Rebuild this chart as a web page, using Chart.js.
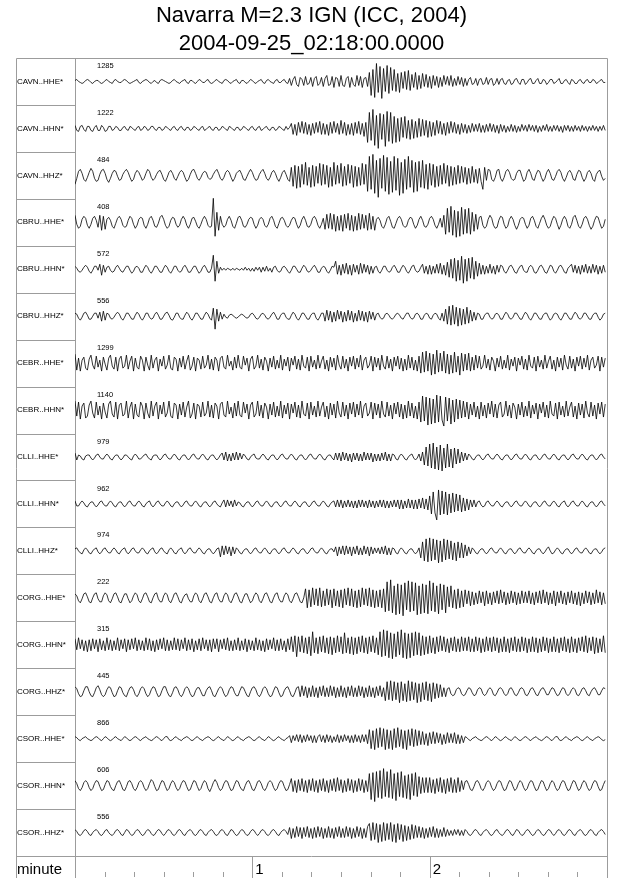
<!DOCTYPE html>
<html>
<head>
<meta charset="utf-8">
<script src="https://cdn.jsdelivr.net/npm/chart.js@4/dist/chart.umd.min.js"></script>
<style>
  body { margin: 0; background: #fff; }
  #wrap { width: 640px; height: 878px; position: relative; }
</style>
</head>
<body>
<div id="wrap"><canvas id="myChart"></canvas></div>
<script>
const titleLines = ['Navarra M=2.3 IGN (ICC, 2004)', '2004-09-25_02:18:00.0000'];

const stations = [
  'CAVN..HHE*', 'CAVN..HHN*', 'CAVN..HHZ*',
  'CBRU..HHE*', 'CBRU..HHN*', 'CBRU..HHZ*',
  'CEBR..HHE*', 'CEBR..HHN*',
  'CLLI..HHE*', 'CLLI..HHN*', 'CLLI..HHZ*',
  'CORG..HHE*', 'CORG..HHN*', 'CORG..HHZ*',
  'CSOR..HHE*', 'CSOR..HHN*', 'CSOR..HHZ*'
];
const peakCounts = [1285, 1222, 484, 408, 572, 556, 1299, 1140, 979, 962, 974, 222, 315, 445, 866, 606, 556];

const axisTitle = 'minute';
const majorTicks = [1, 2];
const minorStep = 1 / 6; // 10 s
const sampleMinutes = 0.6 / 60;

// one sample every 0.6 s, amplitudes
const cavnHHE = [1,2,0,-1,-2,-1,1,2,1,-1,-2,0,1,1,-1,-2,-1,1,2,0,
  -1,-2,1,2,0,-1,-1,1,2,1,-1,-2,-1,0,1,2,-1,-2,0,1,
  2,1,-1,-2,0,1,-1,-2,1,2,1,0,-1,-2,-1,1,2,0,-1,-2,
  0,1,2,-1,-2,1,1,-1,-2,0,2,1,-1,-1,1,2,-1,-2,-1,1,
  2,0,-1,-2,1,2,1,-1,-2,0,1,2,-1,-2,1,1,-1,-2,0,2,
  1,-1,-2,0,1,2,-1,-2,1,2,0,-1,-2,1,2,-1,-1,1,2,-1,
  -2,3,-4,2,5,-3,-5,4,2,-4,5,-3,-2,4,-5,3,5,-4,-2,4,
  -5,3,6,-4,-3,5,-6,4,3,-5,6,-4,-5,3,5,-6,4,-3,-5,6,
  -4,5,-6,3,4,-5,9,-14,12,-16,18,-11,15,-17,13,-10,16,-12,14,-9,
  12,-10,8,-11,9,-7,10,-8,11,-9,7,-6,9,-8,6,-7,8,-5,7,-6,
  5,-7,6,-4,5,-6,4,-5,6,-3,5,-4,6,-5,3,-4,5,-3,4,-5,
  3,-4,2,4,-3,-2,3,-4,2,3,-3,-2,4,-3,2,3,-4,-2,3,-3,
  2,3,-2,-3,1,2,-3,-2,2,3,-1,-3,2,2,-3,-1,2,3,-2,-2,
  1,3,-2,-2,2,1,-3,-1,2,2,-2,-1,1,3,-2,-2,1,2,-1,-3,
  2,1,-2,-2,1,2,-1,-2,1,2,-1,-1,2,1,-2,-1,1,2,-1,-1];
const cavnHHN = [3,-2,-3,2,3,-1,-3,2,2,-2,-3,1,3,-2,-2,3,1,-3,-2,2,
  2,-2,-1,2,1,-2,-2,1,2,-1,-2,2,1,-1,-2,1,2,-2,-1,2,
  1,-2,-1,2,2,-1,-2,1,1,-2,-1,2,1,-1,-2,1,2,-1,-2,1,
  2,-1,-2,1,1,-2,-1,2,1,-1,-2,1,2,-2,-1,1,2,-1,-2,1,
  1,-2,-1,2,1,-1,-2,2,1,-1,-2,1,1,-2,-1,2,1,-1,-2,1,
  2,-1,-2,1,2,-2,-1,1,2,-1,-2,1,1,-2,-1,2,1,-1,-2,2,
  -1,1,5,-6,4,-7,6,-4,7,-5,6,-6,4,-7,5,-5,6,-4,7,-6,
  5,-6,4,-7,6,-5,7,-4,5,-6,8,-5,6,-7,4,-6,5,-7,6,-5,
  7,-6,5,-8,6,-14,16,-12,19,-17,13,-20,15,-11,14,-18,17,-13,16,-15,
  12,-14,10,-13,11,-9,12,-10,8,-11,9,-10,7,-9,10,-8,9,-7,8,-9,
  7,-8,6,-7,8,-5,7,-6,5,-7,6,-5,7,-4,6,-5,4,-6,5,-4,
  4,-5,3,-4,5,-3,4,-3,5,-4,3,-4,4,-3,5,-3,4,-4,3,-5,
  4,-3,3,-4,2,-3,4,-3,3,-4,2,-3,4,-2,3,-3,4,-2,3,-3,
  3,-4,2,-3,3,-2,4,-3,2,-3,3,-2,3,-3,2,-4,3,-2,3,-3,
  2,-3,3,-2,2,-3,3,-2,2,-3,2,-2,3,-2,2,-3,2,-2,3,-2];
const cavnHHZ = [-9,-3,4,6,2,-4,-6,-2,3,7,4,-3,-6,-5,1,5,6,2,-4,-7,
  -3,2,5,4,-1,-5,-4,1,4,6,3,-2,-6,-4,2,5,3,-1,-5,-3,
  2,6,4,-2,-5,-3,1,4,5,1,-4,-6,-2,3,5,2,-3,-5,-1,3,
  5,3,-2,-6,-4,1,5,6,2,-3,-5,-2,2,4,3,-2,-4,-3,1,4,
  6,2,-3,-5,-2,3,5,3,-2,-6,-3,2,4,5,1,-4,-5,-1,3,6,
  3,-2,-5,-4,1,4,6,2,-3,-5,-2,3,5,2,-3,-6,-2,3,5,1,
  -4,-6,8,-11,10,-13,9,-12,11,-9,13,-10,8,-12,10,-11,9,-8,12,-10,
  11,-9,10,-12,8,-11,13,-9,10,-8,12,-11,9,-10,11,-8,10,-12,9,-11,
  8,-10,12,-9,11,-16,19,-14,21,-18,15,-22,17,-13,20,-16,18,-19,14,-17,
  19,-15,17,-20,13,-18,16,-14,19,-12,15,-17,13,-16,14,-12,15,-13,11,-14,
  12,-10,11,-12,9,-11,10,-9,12,-8,10,-11,9,-10,8,-9,10,-8,9,-7,
  8,-9,7,-8,9,-7,6,-8,7,-6,-14,8,-5,6,5,-4,-6,-2,5,6,
  -3,-6,-2,4,6,3,-3,-5,-4,2,5,5,-1,-6,-4,3,6,2,-4,-5,
  1,5,4,-2,-6,-3,3,6,2,-4,-5,-1,4,6,3,-3,-6,-2,3,5,
  2,-4,-5,1,5,4,-2,-6,-3,3,5,2,-4,-6,1,4,5,-1,-5,-3];
const cbruHHE = [7,-2,-6,-4,3,6,4,-3,-6,-2,4,6,2,-5,7,-8,6,-7,3,5,
  2,-4,-6,-1,4,6,3,-3,-5,-4,2,6,4,-2,-6,-3,3,5,4,-3,
  -6,-2,4,6,2,-4,-5,-1,5,7,3,-3,-6,-4,2,5,4,-2,-5,-3,
  3,6,3,-3,-6,-2,4,5,1,-4,-6,-2,3,6,3,-3,-5,-4,24,-14,
  10,-8,6,-2,-5,-3,3,6,2,-4,-6,-1,5,6,2,-4,-5,-2,3,5,
  4,-2,-6,-3,3,5,3,-3,-5,-2,4,6,2,-4,-6,-1,4,5,2,-3,
  -5,-3,2,5,4,-2,-6,-3,3,6,2,-4,-5,-2,4,6,3,-3,-6,-2,
  4,-7,8,-6,9,-7,8,-9,6,-8,7,-9,8,-6,9,-8,7,-9,6,-8,
  9,-7,8,-6,7,-8,9,-7,6,-8,3,5,2,-4,-6,-2,4,6,1,-5,
  -6,-1,4,6,3,-3,-5,-4,2,5,4,-2,-6,-3,3,6,2,-4,-5,-2,
  4,6,3,-3,-6,-2,4,-5,7,-12,14,-10,16,-13,12,-15,11,-14,15,-12,
  13,-11,14,-12,10,-9,8,-7,5,6,-3,-6,-4,3,7,4,-3,-6,-5,2,
  6,5,-2,-6,-4,3,6,3,-3,-7,-3,3,5,4,-2,-6,-3,4,6,2,
  -4,-6,-1,4,7,3,-3,-6,-4,2,6,4,-2,-7,-3,3,6,3,-4,-6,
  -2,5,7,2,-4,-6,-2,4,6,3,-3,-7,-4,2,6,5,-1,-6,-4,3];
const cbruHHN = [3,1,-2,-3,-1,2,4,2,-2,-4,-1,3,3,-1,5,-6,4,-3,2,3,
  -1,-3,-2,2,4,1,-2,-3,0,3,3,-1,-4,-2,2,3,1,-3,-3,1,
  4,2,-2,-4,-1,3,3,0,-3,-3,1,4,2,-2,-4,-1,3,3,-1,-3,
  -2,2,4,1,-3,-3,0,3,3,-1,-4,-2,2,4,1,-3,-3,1,14,-12,
  8,-4,2,-1,1,-1,1,0,-1,1,-1,1,0,-1,1,-1,2,-1,1,-2,
  1,-2,2,-1,2,-3,2,-2,3,-2,1,-3,2,3,-1,-3,-2,2,3,1,
  -2,-4,-1,3,3,0,-3,-3,1,4,2,-2,-3,-1,2,4,1,-3,-3,1,
  3,2,-2,-4,-1,3,2,8,-5,4,-6,5,-4,6,-5,4,-6,5,-3,4,
  -5,6,-4,5,-3,4,-5,3,-4,2,3,-2,-4,-1,3,3,-1,-3,-2,2,
  4,1,-3,-3,1,4,2,-2,-4,-1,3,4,-1,-3,-2,2,5,-4,3,-5,
  4,-5,3,-4,5,-4,6,-5,4,-6,7,-8,10,-9,11,-12,9,-11,13,-14,
  10,-12,11,-9,12,-10,8,-7,6,-5,4,-5,3,-4,5,-4,3,-5,4,-3,
  4,3,-2,-4,-1,3,4,1,-3,-4,0,3,4,-1,-3,-3,2,4,2,-3,
  -4,-1,3,4,1,-3,-4,0,4,3,-2,-4,-1,3,4,1,-3,-4,1,3,
  5,-3,4,-4,3,-5,4,-3,5,-4,3,-4,5,-3,4,-5,3,-4,4,-3];
const cbruHHZ = [3,2,-2,-4,-1,3,4,1,-3,-3,0,3,3,-2,4,-5,5,-4,3,2,
  -2,-3,-1,2,4,2,-2,-4,-1,3,3,0,-3,-3,1,4,2,-2,-4,-1,
  3,3,-1,-3,-2,2,4,1,-3,-3,0,3,4,1,-3,-4,-1,3,3,-1,
  -3,-3,1,4,2,-2,-4,-1,3,3,0,-3,-3,1,4,2,-2,-4,8,-13,
  7,-5,4,-3,2,-1,-2,1,2,1,-1,-2,-1,1,2,1,-1,-2,-1,2,
  3,1,-2,-3,-1,2,3,1,-2,-3,-1,2,4,1,-3,-3,1,3,3,-1,
  -3,-3,1,4,2,-2,-4,-1,3,3,0,-3,-3,1,3,3,-2,-4,-1,3,
  3,-5,6,-4,5,-6,4,-5,6,-3,5,-6,4,-5,6,-4,5,-6,3,-5,
  6,-4,5,-5,4,-6,5,-3,4,-4,2,3,-1,-3,-2,2,3,1,-2,-3,
  -1,2,3,1,-2,-3,0,3,3,-1,-3,-2,2,3,1,-3,-3,1,3,2,
  -2,-3,1,3,2,-2,-4,3,-5,7,-8,10,-9,11,-8,9,-10,8,-9,7,
  -8,9,-7,6,-5,4,-4,3,2,-3,-3,1,3,3,-1,-3,-2,2,3,1,
  -3,-3,1,4,2,-2,-3,-1,3,3,0,-3,-3,1,4,2,-2,-4,-1,3,
  3,0,-3,-3,1,3,3,-1,-4,-2,2,3,2,-2,-4,-1,3,3,0,-3,
  -3,1,4,2,-2,-3,-1,3,3,0,-3,-3,1,3,3,-1,-4,-2,2,3];
const cebrHHE = [9,-7,5,-8,3,6,-5,-7,4,8,-2,-6,7,-4,3,-8,6,-1,-7,5,
  8,-3,-6,6,-8,4,7,-5,-3,8,-6,2,7,-8,5,-4,-6,7,3,-8,
  6,-2,-7,8,-5,3,6,-8,4,-3,7,-6,-2,8,-5,-7,6,4,-8,5,
  -4,7,-6,2,8,-7,-3,6,-8,5,3,-6,7,-5,-2,8,-6,4,-7,6,
  3,-8,5,7,-4,-6,8,-3,2,-7,6,-5,8,-4,-6,7,-2,5,-8,4,
  7,-6,-3,8,-5,4,-7,6,2,-8,5,-4,7,-6,3,-5,8,-7,4,-3,
  6,-8,5,-2,7,-6,4,-7,8,-3,-5,6,-8,7,-4,3,-6,8,-5,2,
  7,-6,3,-8,6,-4,5,-7,8,-2,-6,7,-5,4,-8,6,-3,7,-6,5,
  -4,8,-7,3,6,-5,-2,7,-8,6,-4,5,-7,8,-3,-6,7,-5,4,-8,
  6,-3,7,-6,5,-8,4,-7,8,-5,6,-7,3,-8,7,-10,11,-9,12,-8,
  10,-12,9,-11,13,-9,10,-8,12,-10,9,-11,8,-10,11,-9,7,-12,10,-8,
  9,-7,10,-8,6,-7,8,-5,7,-6,-3,8,-5,4,-7,6,2,-8,5,-4,
  7,-6,3,-5,8,-7,4,-3,6,-8,5,-2,7,-6,4,-7,8,-3,-5,6,
  -8,7,-4,3,-6,8,-5,2,7,-6,3,-8,6,-4,5,-7,8,-2,-6,7,
  -5,4,-8,6,-3,7,-6,5,-4,8,-7,3,6,-5,-2,7,-8,6,-4,5];
const cebrHHN = [9,-6,8,-9,4,7,-8,-6,5,9,-3,-8,8,-5,4,-9,7,-2,-8,6,
  9,-4,-7,8,-9,5,7,-6,-4,9,-8,3,8,-9,6,-5,-7,8,4,-9,
  7,-3,-8,9,-6,4,8,-9,5,-4,8,-7,-3,9,-6,-8,7,5,-9,6,
  -5,8,-7,3,9,-8,-4,7,-9,6,4,-7,8,-6,-3,9,-7,5,-8,7,
  4,-9,6,8,-5,-7,9,-4,3,-8,7,-6,9,-5,-7,8,-3,6,-9,5,
  8,-7,-4,9,-6,5,-8,7,3,-9,6,-5,8,-7,4,-6,9,-8,5,-4,
  7,-9,6,-3,8,-7,5,-8,9,-4,-6,7,-9,8,-5,4,-7,9,-6,3,
  8,-7,4,-9,7,-5,6,-8,9,-3,-7,8,-6,5,-9,7,-4,8,-7,6,
  -5,9,-8,4,7,-6,-3,8,-9,7,-5,6,-8,9,-4,-7,8,-6,5,-9,
  7,-4,8,-7,6,-9,5,-8,9,-6,7,-8,4,-9,8,-12,14,-11,13,-15,
  12,-14,11,-13,15,-12,14,-10,-16,13,-11,12,-14,10,-12,11,-9,10,-8,9,
  -7,8,-9,6,-5,8,-7,4,-9,8,-6,5,-8,7,-4,9,-7,6,-8,5,
  8,-7,-4,9,-6,5,-8,7,3,-9,6,-5,8,-7,4,-6,9,-8,5,-4,
  7,-9,6,-3,8,-7,5,-8,9,-4,-6,7,-9,8,-5,4,-7,9,-6,3,
  8,-7,4,-9,7,-5,6,-8,9,-3,-7,8,-6,5,-9,7,-4,8,-7,6];
const clliHHE = [4,-3,2,1,-2,-3,1,2,2,-1,-3,-1,2,3,0,-2,-2,1,3,1,
  -2,-3,0,2,2,-1,-3,-1,2,2,0,-2,-3,1,3,1,-2,-2,0,2,
  3,0,-2,-3,1,2,2,-1,-3,-1,2,3,0,-2,-2,1,3,1,-2,-3,
  0,2,2,-1,-3,-1,2,3,0,-2,-2,1,3,1,-2,-3,0,2,2,-1,
  -3,-1,2,4,-3,5,-4,3,-4,4,-3,5,-3,4,-2,3,1,-2,-3,0,
  2,3,-1,-2,-2,1,3,1,-2,-3,0,2,2,-1,-3,-1,2,3,0,-2,
  -2,1,3,1,-2,-3,0,2,2,-1,-3,-1,2,3,0,-2,-2,1,3,1,
  -2,-3,0,2,2,-1,-3,4,-3,4,-4,5,-3,4,-4,3,-5,4,-3,4,
  -4,3,-4,5,-3,4,-3,4,-5,3,-4,3,-4,4,-3,5,-4,3,-4,3,
  2,-2,-3,1,3,1,-2,-3,0,2,3,-1,-3,-1,3,-4,5,-8,10,-9,
  13,-11,14,-12,10,-13,12,-14,9,-11,13,-10,8,-11,9,-7,8,-6,5,-4,
  4,-3,3,1,-2,-3,0,2,2,-1,-3,-1,2,3,0,-2,-2,1,3,1,
  -2,-3,0,2,2,-1,-3,-1,2,3,0,-2,-2,1,3,1,-2,-3,0,2,
  2,-1,-3,-1,2,3,0,-2,-2,1,3,1,-2,-3,0,2,2,-1,-3,-1,
  2,3,0,-2,-2,1,3,1,-2,-3,0,2,2,-1,-3,-1,2,3,0,-2];
const clliHHN = [3,-2,-2,1,3,1,-2,-3,0,2,2,-1,-3,-1,2,3,0,-2,-2,1,
  3,1,-2,-3,0,2,2,-1,-3,-1,2,3,0,-2,-2,1,3,1,-2,-3,
  0,2,3,-1,-3,-1,2,3,0,-2,-2,1,3,1,-2,-3,0,2,2,-1,
  -3,-1,2,3,0,-2,-2,1,3,1,-2,-3,0,2,2,-1,-3,-1,2,3,
  0,-2,-3,1,4,-3,4,-2,3,-3,4,-2,2,1,-2,-3,0,2,2,-1,
  -3,-1,2,3,0,-2,-2,1,3,1,-2,-3,0,2,2,-1,-3,-1,2,3,
  0,-2,-2,1,3,1,-2,-3,0,2,2,-1,-3,-1,2,3,0,-2,-2,1,
  3,1,-2,-3,0,2,3,-3,4,-3,4,-4,3,-3,4,-3,3,-4,3,-4,
  4,-3,4,-3,3,-4,4,-3,3,-4,3,-3,4,-3,4,-4,3,-4,3,-3,
  4,-3,4,-5,4,-5,3,-4,5,-4,4,-5,4,-5,5,-4,6,-5,5,-6,
  8,-10,12,-9,-16,14,-11,13,-10,12,-11,10,-9,11,-8,10,-7,9,-8,6,
  -7,5,-6,4,-3,4,-3,2,3,-1,-3,-2,2,3,0,-2,-2,1,3,1,
  -2,-3,0,2,2,-1,-3,-1,2,3,0,-2,-2,1,3,1,-2,-3,0,2,
  2,-1,-3,-1,2,3,0,-2,-2,1,3,1,-2,-3,0,2,3,-1,-3,-1,
  2,3,0,-2,-2,1,3,1,-2,-3,0,2,2,-1,-3,-1,2,3,0,-2];
const clliHHZ = [2,3,0,-2,-3,1,3,1,-2,-3,0,2,3,-1,-3,-1,2,3,0,-2,
  -2,1,3,1,-2,-3,0,2,3,-1,-3,-1,2,3,0,-2,-2,1,3,1,
  -2,-3,0,2,3,-1,-3,-1,2,3,0,-2,-3,1,3,1,-2,-3,0,2,
  3,-1,-3,-1,2,3,0,-2,-2,1,3,1,-2,-3,0,2,2,-1,-3,-1,
  2,3,-6,5,-4,5,-3,4,-5,4,-3,3,1,-2,-3,0,2,2,-1,-3,
  -1,2,3,0,-2,-2,1,3,1,-2,-3,0,2,2,-1,-3,-1,2,3,0,
  -2,-2,1,3,1,-2,-3,0,2,2,-1,-3,-1,2,3,0,-2,-2,1,3,
  1,-2,-3,0,2,2,-1,4,-5,4,-3,5,-4,5,-3,4,-5,4,-3,5,
  -4,3,-4,5,-3,4,-5,4,-3,3,-2,3,-3,4,-3,5,-4,3,-4,3,
  2,-2,-3,1,3,1,-2,-3,0,2,2,-1,-3,-1,3,-7,9,-10,12,-11,
  13,-10,12,-9,11,-12,10,-11,12,-9,11,-8,10,-9,8,-10,9,-7,8,-7,
  6,-5,4,-3,3,1,-2,-3,0,2,2,-1,-3,-1,2,3,0,-2,-2,1,
  3,1,-2,-3,0,2,2,-1,-3,-1,2,3,0,-2,-2,1,3,1,-2,-3,
  0,2,2,-1,-3,-1,2,4,0,-3,-2,1,3,1,-2,-3,0,2,2,-1,
  -3,-1,2,3,0,-2,-2,1,3,1,-2,-3,0,2,2,-1,-3,-1,2,3];
const corgHHE = [4,2,-3,-5,-1,4,5,1,-4,-5,0,4,5,-1,-4,-4,2,5,3,-3,
  -5,-1,4,5,1,-4,-5,0,4,4,-1,-5,-3,2,5,3,-3,-5,-1,4,
  5,1,-4,-5,0,4,5,-1,-4,-4,2,5,3,-3,-5,-1,4,5,1,-4,
  -5,0,3,4,-1,-4,-4,2,5,3,-3,-5,-1,4,5,1,-4,-5,0,4,
  5,-1,-4,-4,2,5,3,-3,-5,-1,4,5,1,-4,-5,0,4,4,-1,-5,
  -3,2,5,3,-3,-5,-1,4,5,1,-4,-5,0,4,5,-1,-4,-4,2,5,
  3,-3,-5,-1,4,5,1,-4,-5,0,9,-10,8,-9,10,-7,9,-8,10,-9,
  7,-8,9,-7,8,-10,9,-8,7,-9,8,-10,9,-7,10,-8,9,-9,7,-10,
  8,-9,10,-7,9,-8,10,-9,8,-10,7,-9,8,-10,9,-14,16,-13,18,-15,
  12,-17,14,-16,13,-18,15,-12,17,-14,16,-13,15,-17,12,-16,14,-15,13,-16,
  17,-13,15,-14,12,-16,14,-12,13,-15,11,-9,12,-10,8,-11,9,-10,7,-9,
  8,-6,7,-8,6,-7,5,-6,7,-5,6,-8,7,-6,5,-7,6,-5,7,-6,
  8,-5,6,-7,5,-6,7,-5,6,-7,5,-6,7,-5,6,-5,7,-6,5,-7,
  6,-5,7,-6,8,-5,6,-7,5,-6,7,-8,6,-5,7,-6,5,-7,6,-5,
  7,-6,5,-7,6,-8,5,-6,7,-5,6,-7,5,-6,8,-5,6,-7,5,-6];
const corgHHN = [6,-5,7,-4,5,-6,4,-7,5,-6,6,-4,5,-7,6,-5,4,-6,7,-5,
  5,-6,4,-5,7,-6,5,-4,6,-7,5,-5,6,-4,7,-6,5,-5,4,-6,
  7,-5,6,-6,4,-7,5,-5,6,-4,7,-6,5,-6,4,-5,7,-5,6,-6,
  5,-4,7,-6,5,-5,6,-7,4,-5,6,-6,7,-4,5,-6,5,-7,6,-4,
  6,-7,5,-4,6,-5,7,-6,4,-6,5,-5,7,-6,4,-5,6,-7,5,-5,
  4,-6,7,-5,5,-6,4,-7,6,-5,5,-4,7,-6,5,-6,6,-5,4,-7,
  6,-5,8,-7,9,-12,8,-7,9,-8,7,-9,8,-11,13,-8,7,-9,8,-7,
  9,-8,7,-9,8,-10,7,-8,9,-7,8,-9,12,-8,7,-9,8,-10,7,-9,
  8,-7,9,-8,7,-9,8,-7,9,-8,7,-10,13,-12,15,-11,14,-13,12,-14,
  11,-12,13,-10,15,-13,12,-14,11,-13,12,-11,13,-10,12,-11,9,-10,8,-9,
  9,-8,7,-9,8,-7,9,-6,8,-7,6,-8,7,-6,8,-7,6,-7,8,-6,
  7,-6,8,-7,6,-7,8,-6,7,-8,6,-7,8,-6,7,-7,8,-6,7,-8,
  6,-7,8,-7,6,-8,7,-6,8,-7,6,-7,8,-6,7,-8,6,-7,8,-7,
  7,-8,6,-7,8,-6,7,-8,6,-7,8,-7,6,-8,7,-6,8,-7,6,-8,
  8,-7,6,-8,7,-6,8,-7,9,-8,7,-6,8,-9,7,-8,6,-7,9,-8];
const corgHHZ = [5,3,-2,-5,-4,1,5,5,0,-4,-5,-1,4,6,2,-3,-5,-3,2,5,
  4,-1,-5,-4,1,5,4,-1,-4,-5,0,4,5,2,-3,-5,-2,3,5,3,
  -2,-5,-3,2,5,4,-1,-5,-4,1,5,5,0,-4,-5,-1,4,5,2,-3,
  -5,-2,3,5,3,-2,-5,-4,1,4,4,0,-4,-4,1,4,5,1,-4,-5,
  -1,3,5,3,-2,-5,-3,2,5,4,-1,-4,-4,1,5,4,0,-4,-5,0,
  4,5,2,-3,-5,-2,3,5,3,-2,-5,-4,1,5,4,-1,-5,-4,1,4,
  5,1,-4,-5,-1,4,5,-5,6,-4,5,-6,4,-5,6,-5,4,-6,5,-4,
  6,-5,4,-5,6,-4,5,-6,4,-5,6,-5,4,-6,5,-4,6,-5,4,-5,
  6,-4,5,-6,4,-5,6,-5,4,-6,5,-4,6,-5,4,-9,10,-8,11,-9,
  10,-8,9,-11,10,-9,8,-10,11,-9,10,-8,9,-11,8,-10,9,-8,10,-9,
  8,-10,9,-7,8,-6,7,-5,4,-5,3,4,-2,-4,-3,2,4,3,-2,-4,
  -3,1,4,3,-1,-4,-3,2,4,3,-2,-4,-2,2,4,2,-3,-4,-1,3,
  4,2,-2,-4,-2,3,4,1,-3,-4,-1,3,4,2,-3,-4,-1,3,4,1,
  -3,-4,0,3,4,1,-3,-3,1,4,3,-1,-4,-3,1,4,3,-2,-4,-2,
  2,4,2,-3,-4,-1,3,4,1,-3,-4,0,3,4,1,-3,-3,1,4,3];
const csorHHE = [2,1,-1,-2,0,1,2,0,-1,-2,-1,1,2,1,-1,-2,0,2,1,-1,
  -2,-1,1,2,0,-1,-2,0,2,1,-1,-2,-1,1,2,1,-1,-2,0,1,
  2,0,-1,-2,-1,1,2,1,-1,-2,0,2,2,-1,-2,-1,1,2,0,-1,
  -2,0,1,2,1,-1,-2,-1,1,2,0,-1,-2,0,1,2,1,-1,-2,-1,
  1,2,0,-1,-2,0,2,1,-1,-2,-1,1,2,0,-1,-2,0,1,2,1,
  -1,-2,-1,1,2,0,-1,-2,0,2,1,-1,-2,-1,1,2,0,-1,-2,0,
  1,3,-4,3,-2,4,-3,4,-4,3,-3,4,-2,3,-4,3,-4,2,4,-3,
  3,-4,4,-3,3,-4,2,-3,4,-4,3,-3,4,-2,3,-4,3,-4,4,-3,
  3,-4,4,-3,4,-5,9,-10,8,-11,10,-9,11,-8,10,-11,9,-10,8,-11,
  10,-9,11,-8,9,-10,8,-11,9,-7,10,-8,9,-7,8,-6,7,-6,5,-7,
  6,-5,7,-5,6,-4,5,-6,4,-5,6,-4,5,-4,6,-5,4,-5,3,-4,
  2,1,-1,-2,0,1,2,0,-1,-2,-1,1,2,1,-1,-2,0,2,1,-1,
  -2,-1,1,2,0,-1,-2,0,2,1,-1,-2,-1,1,2,1,-1,-2,0,1,
  2,0,-1,-2,-1,1,2,1,-1,-2,0,2,2,-1,-2,-1,1,2,0,-1,
  -2,0,1,2,1,-1,-2,-1,1,2,0,-1,-2,0,1,2,1,-1,-2,-1];
const csorHHN = [5,2,-3,-5,-2,3,5,3,-2,-5,-3,2,5,4,-1,-5,-4,1,5,4,
  -1,-4,-5,0,4,5,1,-4,-5,-1,4,5,2,-3,-5,-2,3,5,3,-2,
  -5,-3,2,6,4,-1,-5,-4,1,5,4,-1,-5,-3,2,5,3,-2,-5,-3,
  2,5,4,-1,-5,-4,1,5,4,-1,-5,-3,2,5,3,-3,-6,-2,3,6,
  3,-2,-5,-3,2,5,4,-1,-5,-4,1,5,4,-1,-4,-5,0,4,5,1,
  -4,-5,-1,4,5,2,-3,-5,-2,3,5,3,-2,-5,-3,2,5,4,-1,-5,
  -4,1,7,-6,5,-7,6,-5,7,-6,5,-7,6,-5,7,-6,5,-7,6,-5,
  7,-6,5,-7,6,-5,7,-6,8,-5,6,-7,5,-6,7,-5,6,-7,5,-6,
  7,-5,6,-7,5,-6,12,-14,13,-16,14,-12,15,-13,17,-11,14,-12,16,-13,
  12,-15,13,-11,14,-12,10,-13,11,-14,12,-10,13,-11,9,-8,8,-7,8,-7,
  8,-7,6,-8,7,-6,8,-7,6,-8,7,-6,8,-7,6,-7,8,-6,5,-4,
  4,5,1,-4,-5,-1,4,5,2,-3,-5,-2,3,5,3,-2,-5,-3,2,5,
  4,-1,-5,-4,1,5,4,-1,-5,-3,2,5,3,-2,-5,-3,2,5,4,-1,
  -5,-4,1,5,4,-1,-5,-3,2,5,3,-2,-5,-3,2,5,4,-1,-5,-4,
  1,5,4,-1,-5,-3,2,5,3,-2,-5,-3,2,5,4,-1,-5,-4,1,5];
const csorHHZ = [3,1,-2,-3,-1,2,3,1,-2,-3,0,2,3,1,-2,-3,-1,2,3,0,
  -2,-3,-1,2,3,1,-2,-3,0,3,2,-1,-3,-2,1,3,2,-1,-3,-2,
  1,3,2,-1,-3,-2,1,3,2,-1,-3,-1,2,3,1,-2,-3,-1,2,3,
  1,-2,-3,0,2,3,1,-2,-3,-1,2,3,1,-2,-3,0,2,3,1,-2,
  -3,-1,2,3,1,-2,-3,0,3,2,-1,-3,-2,1,3,2,-1,-3,-2,1,
  3,2,-1,-3,-1,2,3,1,-2,-3,-1,2,3,1,-2,-3,0,2,3,1,
  -2,5,-6,4,-5,6,-4,5,-6,5,-4,6,-5,4,-6,5,-5,6,-4,5,
  -6,4,-5,6,-5,4,-6,5,-4,6,-5,4,-5,6,-4,5,-6,4,-5,6,
  -4,5,-6,4,-5,6,9,-8,10,-7,9,-10,8,-9,10,-8,9,-7,10,-9,
  8,-10,9,-7,8,-9,7,-8,6,-7,8,-6,7,-5,6,-5,5,-6,4,-5,
  5,-4,6,-5,4,-5,3,-4,5,-4,3,-3,2,-3,3,-2,3,-3,2,-3,
  3,1,-2,-3,-1,2,3,1,-2,-3,0,2,3,1,-2,-3,-1,2,3,0,
  -2,-3,-1,2,3,1,-2,-3,0,3,2,-1,-3,-2,1,3,2,-1,-3,-2,
  1,3,2,-1,-3,-2,1,3,2,-1,-3,-1,2,3,1,-2,-3,-1,2,3,
  1,-2,-3,0,2,3,1,-2,-3,-1,2,3,1,-2,-3,0,2,3,1,-2];

const traces = [cavnHHE, cavnHHN, cavnHHZ, cbruHHE, cbruHHN, cbruHHZ, cebrHHE, cebrHHN,
  clliHHE, clliHHN, clliHHZ, corgHHE, corgHHN, corgHHZ, csorHHE, csorHHN, csorHHZ];

const countsPerRow = 47;
const FONT = '"Liberation Sans", Arial, Helvetica, sans-serif';
const GRID = '#9c9c9c';

const seismoFrame = {
  id: 'seismoFrame',
  beforeDatasetsDraw(chart) {
    const { ctx, chartArea: a, scales: { x, y } } = chart;
    const left = 16, bottom = chart.height;
    ctx.save();
    ctx.strokeStyle = GRID;
    ctx.lineWidth = 1;
    ctx.beginPath();
    ctx.moveTo(left + 0.5, bottom);
    ctx.lineTo(left + 0.5, a.top + 0.5);
    ctx.lineTo(a.right + 0.5, a.top + 0.5);
    ctx.lineTo(a.right + 0.5, bottom);
    ctx.moveTo(a.left + 0.5, a.top);
    ctx.lineTo(a.left + 0.5, bottom);
    for (let i = 1; i <= stations.length; i++) {
      const py = Math.round(y.getPixelForValue(i)) + 0.5;
      ctx.moveTo(left, py);
      ctx.lineTo(i === stations.length ? a.right : a.left, py);
    }
    majorTicks.forEach((m) => {
      const px = Math.round(x.getPixelForValue(m)) + 0.5;
      ctx.moveTo(px, a.bottom);
      ctx.lineTo(px, bottom);
    });
    for (let t = minorStep; t < x.max - 1e-6; t += minorStep) {
      if (majorTicks.some((m) => Math.abs(m - t) < 1e-6)) continue;
      const px = Math.round(x.getPixelForValue(t)) + 0.5;
      ctx.moveTo(px, bottom - 6);
      ctx.lineTo(px, bottom - 1);
    }
    ctx.stroke();
    ctx.restore();
  },
  afterDraw(chart) {
    const { ctx, chartArea: a, scales: { x, y } } = chart;
    ctx.save();
    ctx.fillStyle = '#000';
    ctx.textAlign = 'center';
    ctx.textBaseline = 'alphabetic';
    ctx.font = '22px ' + FONT;
    const cx = (16 + a.right) / 2;
    ctx.fillText(titleLines[0], cx, 22);
    ctx.fillText(titleLines[1], cx, 50);

    ctx.textAlign = 'left';
    ctx.textBaseline = 'middle';
    stations.forEach((name, i) => {
      ctx.font = '8px ' + FONT;
      ctx.fillText(name, 17, y.getPixelForValue(i + 0.5));
      ctx.font = '7.5px ' + FONT;
      ctx.fillText(String(peakCounts[i]), 97, y.getPixelForValue(i) + 8);
    });

    ctx.textBaseline = 'alphabetic';
    ctx.font = '15px ' + FONT;
    ctx.fillText(axisTitle, 17, chart.height - 4);
    majorTicks.forEach((m) => {
      ctx.fillText(String(m), x.getPixelForValue(m) + 3, chart.height - 4);
    });
    ctx.restore();
  }
};

new Chart(document.getElementById('myChart'), {
  type: 'line',
  data: {
    datasets: traces.map((values, i) => ({
      label: stations[i],
      data: values.map((v, k) => ({ x: k * sampleMinutes, y: i + 0.5 - v / countsPerRow })),
      borderColor: '#000',
      borderWidth: 0.8,
      pointRadius: 0,
      tension: 0,
    })),
  },
  options: {
    responsive: true,
    maintainAspectRatio: false,
    animation: false,
    layout: { padding: { left: 75, right: 33, top: 58, bottom: 22 } },
    scales: {
      x: { type: 'linear', min: 0, max: 3, display: false },
      y: { type: 'linear', min: 0, max: stations.length, reverse: true, display: false },
    },
    plugins: {
      legend: { display: false },
      tooltip: { enabled: false },
      title: { display: false },
    },
  },
  plugins: [seismoFrame],
});
</script>
</body>
</html>
